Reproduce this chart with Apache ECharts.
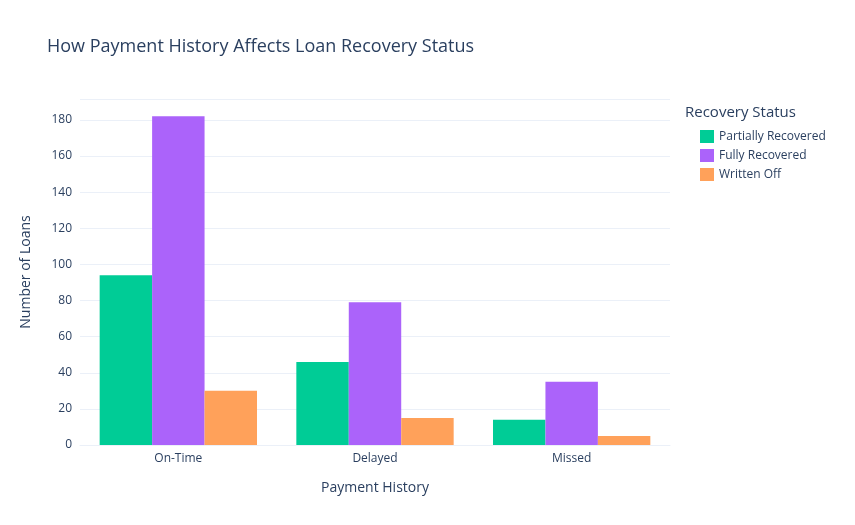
<!DOCTYPE html><html><head><meta charset="utf-8"><script src="https://cdn.jsdelivr.net/npm/echarts@6/dist/echarts.min.js"></script></head><body style="margin:0"><div id="c" style="width:855px;height:525px"></div><script>
const categories=["On-Time","Delayed","Missed"];
const seriesNames=["Partially Recovered","Fully Recovered","Written Off"];
const partially=[94,46,14];
const fully=[182,79,35];
const writtenOff=[30,15,5];
const colors=["#00CC96","#AB63FA","#FFA15A"];
const vals=[partially,fully,writtenOff];
const ch=echarts.init(document.getElementById('c'));
const f='"Open Sans", sans-serif';
ch.setOption({
 animation:false,
 title:{text:"How Payment History Affects Loan Recovery Status",left:42,top:33,textStyle:{fontFamily:f,fontSize:18,fontWeight:'normal',color:'#2a3f5f'}},
 graphic:[{type:'text',left:685,top:105,style:{text:'Recovery Status',font:'15px "Open Sans", sans-serif',fill:'#2a3f5f'}}],
 legend:{orient:'vertical',left:695,top:125,itemWidth:14,itemHeight:13,itemGap:6,icon:'rect',textStyle:{fontFamily:f,fontSize:12,color:'#2a3f5f'},data:seriesNames},
 grid:{left:80,right:185,top:99,bottom:80},
 xAxis:{type:'category',data:categories,name:'Payment History',nameLocation:'middle',nameGap:36,nameTextStyle:{fontFamily:f,fontSize:14,color:'#2a3f5f'},axisTick:{show:false},axisLine:{lineStyle:{color:'#ebf0f8'}},axisLabel:{fontFamily:f,fontSize:12,color:'#2a3f5f'}},
 yAxis:{type:'value',min:0,max:191.6,interval:20,name:'Number of Loans',nameLocation:'middle',nameGap:47,nameTextStyle:{fontFamily:f,fontSize:14,color:'#2a3f5f'},axisLabel:{fontFamily:f,fontSize:12,color:'#2a3f5f',formatter:v=>v%20===0?v:''},splitLine:{lineStyle:{color:'#ebf0f8'}},axisLine:{show:false},axisTick:{show:false}},
 series:seriesNames.map((n,i)=>({name:n,type:'bar',data:vals[i],itemStyle:{color:colors[i]},barGap:'0%',barCategoryGap:'20%'}))
});
</script></body></html>
